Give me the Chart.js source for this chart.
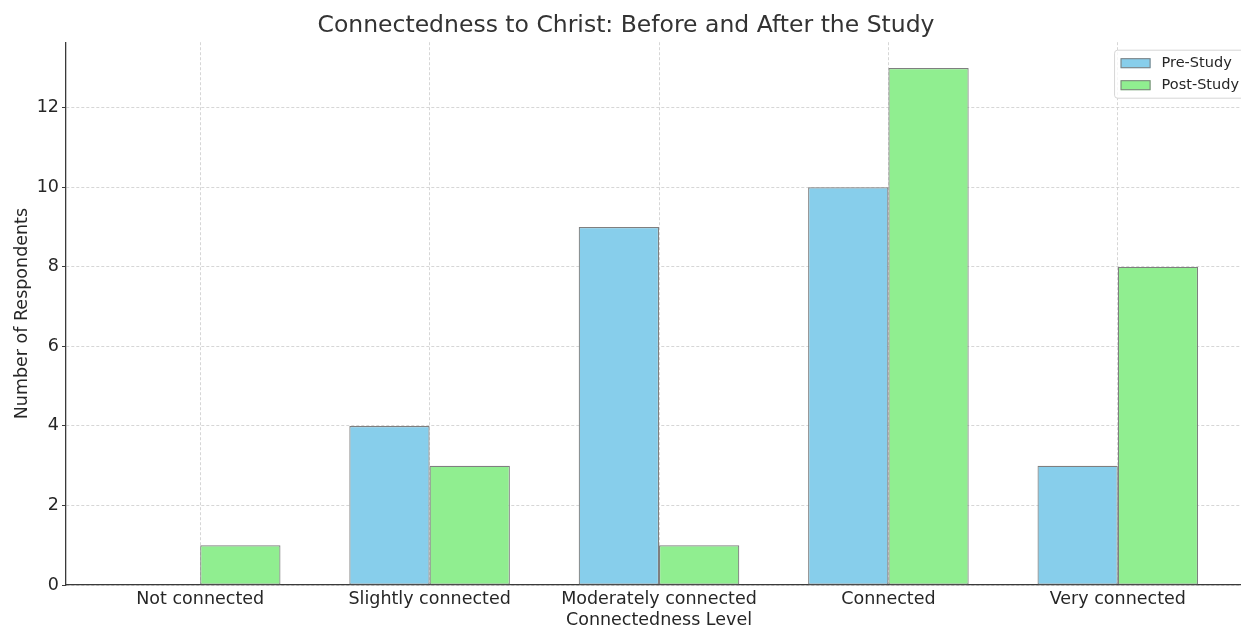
<!DOCTYPE html>
<html>
<head>
<meta charset="utf-8">
<script src="https://cdn.jsdelivr.net/npm/chart.js@4"></script>
<style>
  html, body { margin: 0; padding: 0; background: #fff; overflow: hidden; width: 1241px; height: 629px; }
  canvas { display: block; }
</style>
</head>
<body>
<canvas id="c" width="1262" height="629"></canvas>
<script>
// Connectedness levels and respondent counts
const categories = ['Not connected', 'Slightly connected', 'Moderately connected', 'Connected', 'Very connected'];
const preStudy = [0, 4, 9, 10, 3];
const postStudy = [1, 3, 1, 13, 8];
const yTicks = [0, 2, 4, 6, 8, 10, 12];

const FONT = "'DejaVu Sans', 'Liberation Sans', sans-serif";
const TEXT = '#262626';
const AXIS = '#3a3a3a';
const GRID = '#cccccc';

// bar group spans 0.7 of each slot; axis limits padded by 5% of the bar extent
const barExtent = 0.35;
const pad = 0.05 * ((categories.length - 1) + 2 * barExtent);
const xMin = -barExtent - pad;
const xMax = (categories.length - 1) + barExtent + pad;
const yMax = Math.max(...preStudy, ...postStudy) * 1.05;

const toPoints = arr => arr.map((v, i) => ({ x: i, y: v }));

// legend box in the upper-right corner of the plot area
const innerLegend = {
  id: 'innerLegend',
  afterDraw(chart) {
    const { ctx, chartArea } = chart;
    const ds = chart.data.datasets;
    const fs = 14.5;
    ctx.save();
    ctx.font = fs + 'px ' + FONT;
    const textW = Math.max(...ds.map(d => ctx.measureText(d.label).width));
    const patchW = 30, patchH = 10, gap = 11, padX = 6, rowH = 22;
    const w = padX + patchW + gap + textW + padX;
    const h = ds.length * rowH + 4;
    const x = chartArea.right - 7 - w;
    const y = chartArea.top + 8;
    ctx.beginPath();
    ctx.roundRect(x, y, w, h, 3);
    ctx.fillStyle = 'rgba(255,255,255,0.8)';
    ctx.fill();
    ctx.strokeStyle = '#d6d6d6';
    ctx.lineWidth = 1;
    ctx.stroke();
    ds.forEach((d, i) => {
      const cy = y + 2 + rowH * i + rowH / 2;
      ctx.fillStyle = d.backgroundColor;
      ctx.fillRect(x + padX, cy - patchH / 2, patchW, patchH);
      ctx.strokeStyle = d.borderColor;
      ctx.lineWidth = 1;
      ctx.strokeRect(x + padX + 0.5, cy - patchH / 2 + 0.5, patchW - 1, patchH - 1);
      ctx.fillStyle = TEXT;
      ctx.textBaseline = 'middle';
      ctx.textAlign = 'left';
      ctx.fillText(d.label, x + padX + patchW + gap, cy);
    });
    ctx.restore();
  }
};

new Chart(document.getElementById('c'), {
  type: 'bar',
  data: {
    datasets: [
      { label: 'Pre-Study', data: toPoints(preStudy), backgroundColor: '#87ceeb', borderColor: '#7f7f7f', borderWidth: 1.2, borderSkipped: false },
      { label: 'Post-Study', data: toPoints(postStudy), backgroundColor: '#90ee90', borderColor: '#7f7f7f', borderWidth: 1.2, borderSkipped: false }
    ]
  },
  options: {
    responsive: false,
    animation: false,
    devicePixelRatio: 1,
    categoryPercentage: 2 * barExtent,
    barPercentage: 1.0,
    layout: { padding: { left: 0, right: 10, top: 0, bottom: 0 } },
    plugins: {
      legend: { display: false },
      tooltip: { enabled: false },
      title: {
        display: true,
        text: 'Connectedness to Christ: Before and After the Study',
        color: '#333333',
        font: { family: FONT, size: 23.5, weight: 'normal' },
        padding: { top: 12, bottom: 2 }
      }
    },
    scales: {
      x: {
        type: 'linear',
        offset: false,
        min: xMin,
        max: xMax,
        afterBuildTicks: s => { s.ticks = categories.map((_, i) => ({ value: i })); },
        afterFit: s => { s.height = 44; },
        ticks: {
          callback: v => categories[v],
          color: TEXT,
          font: { family: FONT, size: 17.5 },
          padding: 0,
          maxRotation: 0,
          autoSkip: false
        },
        grid: { offset: false, color: GRID, lineWidth: 0.8, drawTicks: true, tickLength: 4, tickColor: 'rgba(0,0,0,0)', tickBorderDash: [] },
        border: { display: true, color: AXIS, width: 1.3, dash: [3, 2] },
        title: {
          display: true,
          text: 'Connectedness Level',
          color: TEXT,
          font: { family: FONT, size: 17.5, lineHeight: 1 },
          padding: { top: 0, bottom: 0 }
        }
      },
      y: {
        min: 0,
        max: yMax,
        afterBuildTicks: s => { s.ticks = yTicks.map(v => ({ value: v })); },
        afterFit: s => { s.width = 66; },
        ticks: {
          color: TEXT,
          font: { family: FONT, size: 17.5 },
          padding: 3
        },
        grid: { color: GRID, lineWidth: 0.8, drawTicks: true, tickLength: 4, tickColor: AXIS, tickBorderDash: [], tickWidth: 1 },
        border: { display: true, color: AXIS, width: 1.3, dash: [3, 2] },
        title: {
          display: true,
          text: 'Number of Respondents',
          color: TEXT,
          font: { family: FONT, size: 17.5 },
          padding: { top: 11.5, bottom: 0 }
        }
      }
    }
  },
  plugins: [innerLegend]
});
</script>
</body>
</html>
